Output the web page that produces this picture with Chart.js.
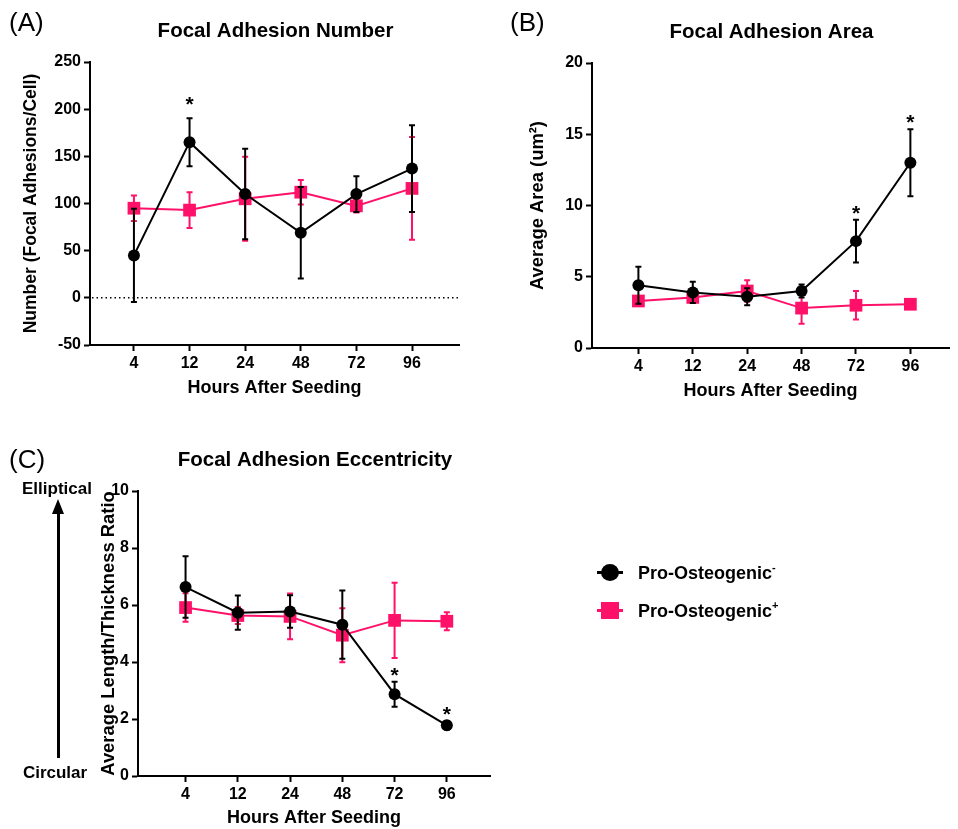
<!DOCTYPE html>
<html><head><meta charset="utf-8">
<script src="https://cdn.jsdelivr.net/npm/chart.js@4.4.1/dist/chart.umd.min.js"></script>
<style>
body{margin:0;background:#fff;width:958px;height:829px;overflow:hidden;position:relative;font-family:"Liberation Sans",Arial,sans-serif;color:#000}
canvas{position:absolute;left:0;top:0}
.plab{position:absolute;font-size:26px;line-height:30px;font-weight:normal}
.note{position:absolute;left:0;width:112px;text-align:center;font-size:17px;line-height:22px;font-weight:bold}
.legt{position:absolute;left:638px;font-size:18px;line-height:22px;font-weight:bold;white-space:nowrap}
.legt sup{font-size:11px;vertical-align:top;position:relative;top:-6px}
.blk{position:absolute}
</style></head><body>
<canvas id="cA" width="958" height="829"></canvas>
<canvas id="cB" width="958" height="829"></canvas>
<canvas id="cC" width="958" height="829"></canvas>

<div class="plab" style="left:9px;top:7px">(A)</div>
<div class="plab" style="left:510px;top:7px">(B)</div>
<div class="plab" style="left:9px;top:444px">(C)</div>

<div class="note" style="left:1px;top:478px">Elliptical</div>
<div class="note" style="left:-1px;top:762px">Circular</div>
<div class="blk" style="left:52px;top:499px;width:0;height:0;border-left:6px solid transparent;border-right:6px solid transparent;border-bottom:15px solid #000"></div>
<div class="blk" style="left:56.5px;top:512px;width:3px;height:246px;background:#000"></div>

<div class="blk" style="left:597px;top:571px;width:26px;height:3px;background:#000"></div>
<div class="blk" style="left:601px;top:564px;width:18px;height:17px;border-radius:50%;background:#000"></div>
<div class="legt" style="top:562px">Pro-Osteogenic<sup>-</sup></div>
<div class="blk" style="left:597px;top:609px;width:26px;height:3px;background:#FF1169"></div>
<div class="blk" style="left:601px;top:602px;width:18px;height:17px;background:#FF1169"></div>
<div class="legt" style="top:600px">Pro-Osteogenic<sup>+</sup></div>

<script>
// ---------- data ----------
const hours = ['4', '12', '24', '48', '72', '96'];

const numberMinus    = [45, 165, 110, 69, 110, 137];
const numberMinusErr = [49.5, 25.5, 48, 48.5, 19, 46];
const numberPlus     = [95, 93, 105, 112, 97.5, 116];
const numberPlusErr  = [13.5, 19, 44.5, 13, 7, 54.5];
const numberSig      = [false, true, false, false, false, false];
const numberTicks    = [-50, 0, 50, 100, 150, 200, 250];

const areaMinus    = [4.4, 3.9, 3.6, 4.0, 7.5, 13.0];
const areaMinusErr = [1.3, 0.75, 0.6, 0.45, 1.5, 2.35];
const areaPlus     = [3.3, 3.55, 4.0, 2.8, 3.0, 3.07];
const areaPlusErr  = [0.3, 0.35, 0.75, 1.1, 1.0, 0.1];
const areaSig      = [false, false, false, false, true, true];
const areaTicks    = [0, 5, 10, 15, 20];

const eccMinus    = [6.63, 5.73, 5.77, 5.31, 2.87, 1.78];
const eccMinusErr = [1.08, 0.6, 0.57, 1.2, 0.44, 0.15];
const eccPlus     = [5.91, 5.63, 5.6, 4.94, 5.46, 5.43];
const eccPlusErr  = [0.5, 0.3, 0.8, 0.95, 1.32, 0.32];
const eccSig      = [false, false, false, false, true, true];
const eccTicks    = [0, 2, 4, 6, 8, 10];

// ---------- styling ----------
const PINK = '#FF1169';
const BLACK = '#000000';
const FONT = '"Liberation Sans", Arial, sans-serif';

const errorBarPlugin = {
  id: 'errorBars',
  beforeDatasetsDraw(chart, args, opts) {
    const {ctx, chartArea} = chart;
    const ys = chart.scales.y;
    if (opts.zeroLine) {
      const y0 = ys.getPixelForValue(0);
      ctx.save();
      ctx.strokeStyle = '#000';
      ctx.lineWidth = 1.5;
      ctx.setLineDash([1.5, 3]);
      ctx.beginPath();
      ctx.moveTo(chartArea.left + 2, y0);
      ctx.lineTo(chartArea.right, y0);
      ctx.stroke();
      ctx.restore();
    }
  },
  beforeDatasetDraw(chart, args) {
    const ds = chart.data.datasets[args.index];
    if (!ds.errors) return;
    const {ctx} = chart;
    const ys = chart.scales.y;
    ctx.save();
    ctx.strokeStyle = ds.borderColor;
    ctx.lineWidth = 2;
    args.meta.data.forEach((pt, i) => {
      const v = ds.data[i].y, e = ds.errors[i];
      const yt = ys.getPixelForValue(v + e), yb = ys.getPixelForValue(v - e);
      const x = pt.x;
      ctx.beginPath();
      ctx.moveTo(x, yt); ctx.lineTo(x, yb);
      ctx.moveTo(x - 3, yt); ctx.lineTo(x + 3, yt);
      ctx.moveTo(x - 3, yb); ctx.lineTo(x + 3, yb);
      ctx.stroke();
    });
    ctx.restore();
  },
  afterDatasetsDraw(chart, args, opts) {
    const {ctx, chartArea} = chart;
    const ys = chart.scales.y;
    chart.data.datasets.forEach((ds, di) => {
      if (!ds.sig) return;
      const meta = chart.getDatasetMeta(di);
      ctx.save();
      ctx.fillStyle = '#000';
      ctx.font = 'bold 21px ' + FONT;
      ctx.textAlign = 'center';
      ctx.textBaseline = 'alphabetic';
      meta.data.forEach((pt, i) => {
        if (!ds.sig[i]) return;
        const yc = ys.getPixelForValue(ds.data[i].y + ds.errors[i]) - (opts.sigOffset || 13);
        ctx.fillText('*', pt.x, yc + 12);
      });
      ctx.restore();
    });
    if (opts.title) {
      ctx.save();
      ctx.fillStyle = '#000';
      ctx.font = 'bold 20.5px ' + FONT;
      ctx.textAlign = 'center';
      ctx.textBaseline = 'middle';
      ctx.fillText(opts.title, (chartArea.left + chartArea.right) / 2 + 1, chartArea.top - 31);
      ctx.restore();
    }
  }
};

function toPoints(arr) { return arr.map((v, i) => ({x: i, y: v})); }

function makeChart(id, g, title, yTitle, yTicks, minus, minusErr, plus, plusErr, sig, extra) {
  return new Chart(document.getElementById(id), {
    type: 'line',
    data: {
      datasets: [
        {
          label: 'Pro-Osteogenic-',
          data: toPoints(minus), errors: minusErr, sig: sig,
          borderColor: BLACK, backgroundColor: BLACK, borderWidth: 2,
          pointStyle: 'circle', pointRadius: 6, pointBorderWidth: 0,
          tension: 0
        },
        {
          label: 'Pro-Osteogenic+',
          data: toPoints(plus), errors: plusErr,
          borderColor: PINK, backgroundColor: PINK, borderWidth: 2,
          pointStyle: 'rect', pointRadius: 9, pointBorderWidth: 0,
          tension: 0
        }
      ]
    },
    options: {
      responsive: false, animation: false, devicePixelRatio: 1,
      layout: {padding: {left: g.L - g.W, top: g.T, right: 958 - g.R, bottom: 829 - g.B - g.H}},
      plugins: {
        legend: {display: false}, tooltip: {enabled: false},
        errorBars: Object.assign({title: title}, extra || {})
      },
      scales: {
        x: {
          type: 'linear', min: g.xmin, max: g.xmax,
          afterBuildTicks(s) { s.ticks = hours.map((h, i) => ({value: i})); },
          afterFit(s) { s.height = g.H; },
          ticks: {
            callback: (v) => hours[v], color: '#000', maxRotation: 0, autoSkip: false,
            font: {family: FONT, size: 16, weight: 'bold'}, padding: 3
          },
          grid: {drawOnChartArea: false, drawTicks: true, tickLength: 6, tickColor: '#000', tickWidth: 2},
          border: {color: '#000', width: 2},
          title: {display: true, text: 'Hours After Seeding', color: '#000',
                  font: {family: FONT, size: 18, weight: 'bold'}, padding: {top: 0, bottom: 0}}
        },
        y: {
          min: yTicks[0], max: yTicks[yTicks.length - 1],
          afterBuildTicks(s) { s.ticks = yTicks.map(v => ({value: v})); },
          afterFit(s) { s.width = g.W; },
          ticks: {color: '#000', font: {family: FONT, size: 16, weight: 'bold'}, padding: 3},
          grid: {drawOnChartArea: false, drawTicks: true, tickLength: 6, tickColor: '#000', tickWidth: 2},
          border: {color: '#000', width: 2},
          title: {display: true, text: yTitle, color: '#000',
                  font: {family: FONT, size: g.yts, weight: 'bold'}, padding: {top: 0, bottom: 0}}
        }
      }
    },
    plugins: [errorBarPlugin]
  });
}

makeChart('cA', {L: 90, R: 459, T: 62, B: 345, W: 69, H: 54, xmin: -0.79, xmax: 5.845, yts: 17.5},
  'Focal Adhesion Number', 'Number (Focal Adhesions/Cell)', numberTicks,
  numberMinus, numberMinusErr, numberPlus, numberPlusErr, numberSig, {zeroLine: true, sigOffset: 19});

makeChart('cB', {L: 592, R: 958, T: 63, B: 348, W: 65, H: 54, xmin: -0.853, xmax: 5.71, yts: 18.4},
  'Focal Adhesion Area', 'Average Area (um\u00B2)', areaTicks,
  areaMinus, areaMinusErr, areaPlus, areaPlusErr, areaSig, {sigOffset: 12});

makeChart('cC', {L: 138, R: 490, T: 491, B: 776, W: 40, H: 53, xmin: -0.91, xmax: 5.826, yts: 18.4},
  'Focal Adhesion Eccentricity', 'Average Length/Thickness Ratio', eccTicks,
  eccMinus, eccMinusErr, eccPlus, eccPlusErr, eccSig, {sigOffset: 12});
</script>
</body></html>
